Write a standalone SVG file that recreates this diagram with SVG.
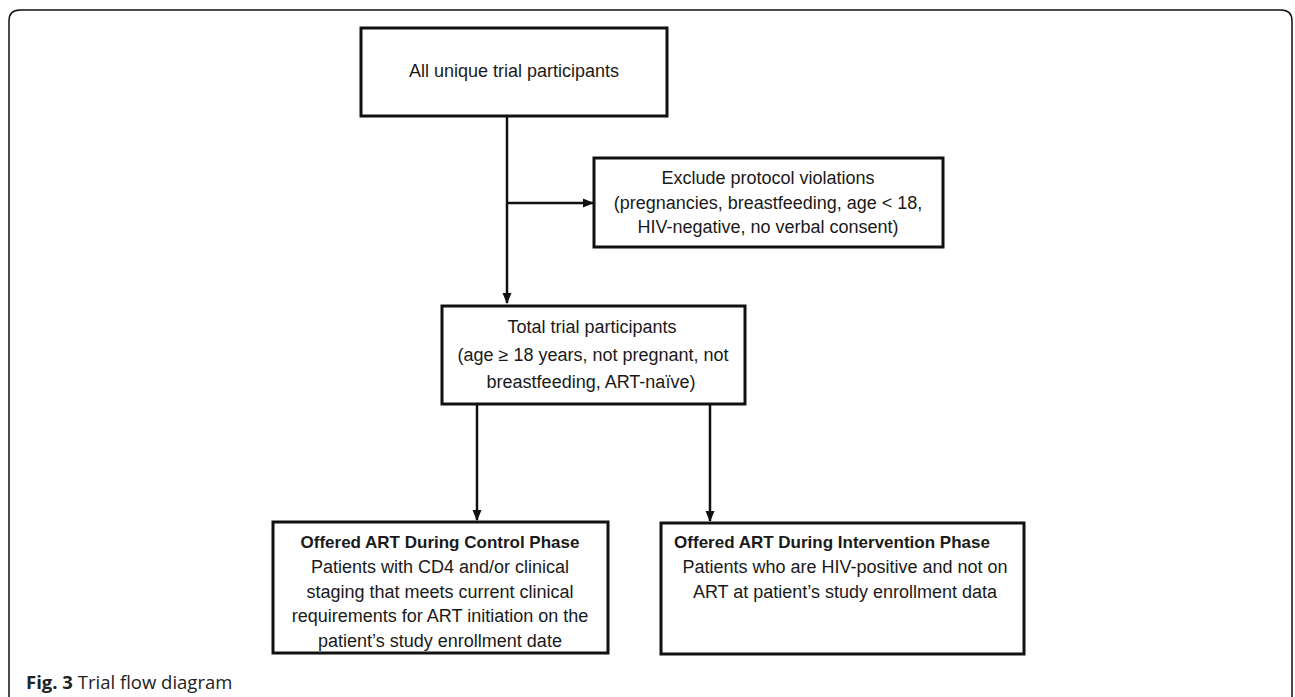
<svg xmlns="http://www.w3.org/2000/svg" width="1295" height="697" viewBox="0 0 1295 697">
  <defs>
    <marker id="arr" markerWidth="12" markerHeight="12" refX="10" refY="6" orient="auto" markerUnits="userSpaceOnUse">
      <path d="M0,1.5 L11,6 L0,10.5 Z" fill="#111"/>
    </marker>
    <style>
      .box { fill: #fff; stroke: #111; stroke-width: 3; }
      .t { font-family: "Liberation Sans", Arial, sans-serif; font-size: 18px; fill: #1a1a1a; text-anchor: middle; }
      .b { font-weight: bold; font-size: 17px; }
      .con { stroke: #111; stroke-width: 2.5; fill: none; }
      .cap { font-family: "Open Sans", "Liberation Sans", sans-serif; font-size: 18.5px; fill: #222; }
    </style>
  </defs>
  <rect width="1295" height="697" fill="#fff"/>
  <path d="M9,697 V21 Q9,10 20,10 H1281 Q1292,10 1292,21 V697" fill="none" stroke="#111" stroke-width="1.5"/>

  <g id="connectors">
    <path class="con" d="M507,116 V303" marker-end="url(#arr)"/>
    <path class="con" d="M507,203 H593" marker-end="url(#arr)"/>
    <path class="con" d="M477,404 V520" marker-end="url(#arr)"/>
    <path class="con" d="M710,404 V521" marker-end="url(#arr)"/>
  </g>

  <g id="n1">
    <rect class="box" x="361" y="28" width="306" height="88"/>
    <text class="t" x="514" y="77">All unique trial participants</text>
  </g>

  <g id="n2">
    <rect class="box" x="594" y="158" width="349" height="89"/>
    <text class="t" x="768" y="184">Exclude protocol violations</text>
    <text class="t" x="768" y="209">(pregnancies, breastfeeding, age &lt; 18,</text>
    <text class="t" x="768" y="233">HIV-negative, no verbal consent)</text>
  </g>

  <g id="n3">
    <rect class="box" x="442" y="306" width="303" height="98"/>
    <text class="t" x="592" y="333">Total trial participants</text>
    <text class="t" x="593" y="361">(age ≥ 18 years, not pregnant, not</text>
    <text class="t" x="591" y="388">breastfeeding, ART-naïve)</text>
  </g>

  <g id="n4">
    <rect class="box" x="273" y="522" width="335" height="131"/>
    <text class="t b" x="440" y="548">Offered ART During Control Phase</text>
    <text class="t" x="440" y="573">Patients with CD4 and/or clinical</text>
    <text class="t" x="440" y="598">staging that meets current clinical</text>
    <text class="t" x="440" y="622">requirements for ART initiation on the</text>
    <text class="t" x="440" y="647">patient’s study enrollment date</text>
  </g>

  <g id="n5">
    <rect class="box" x="661" y="523" width="363" height="131"/>
    <text class="t b" x="832" y="548">Offered ART During Intervention Phase</text>
    <text class="t" x="845" y="573">Patients who are HIV-positive and not on</text>
    <text class="t" x="845" y="598">ART at patient’s study enrollment data</text>
  </g>

  <text class="cap" x="26" y="689"><tspan font-weight="bold">Fig. 3</tspan> Trial flow diagram</text>
</svg>
